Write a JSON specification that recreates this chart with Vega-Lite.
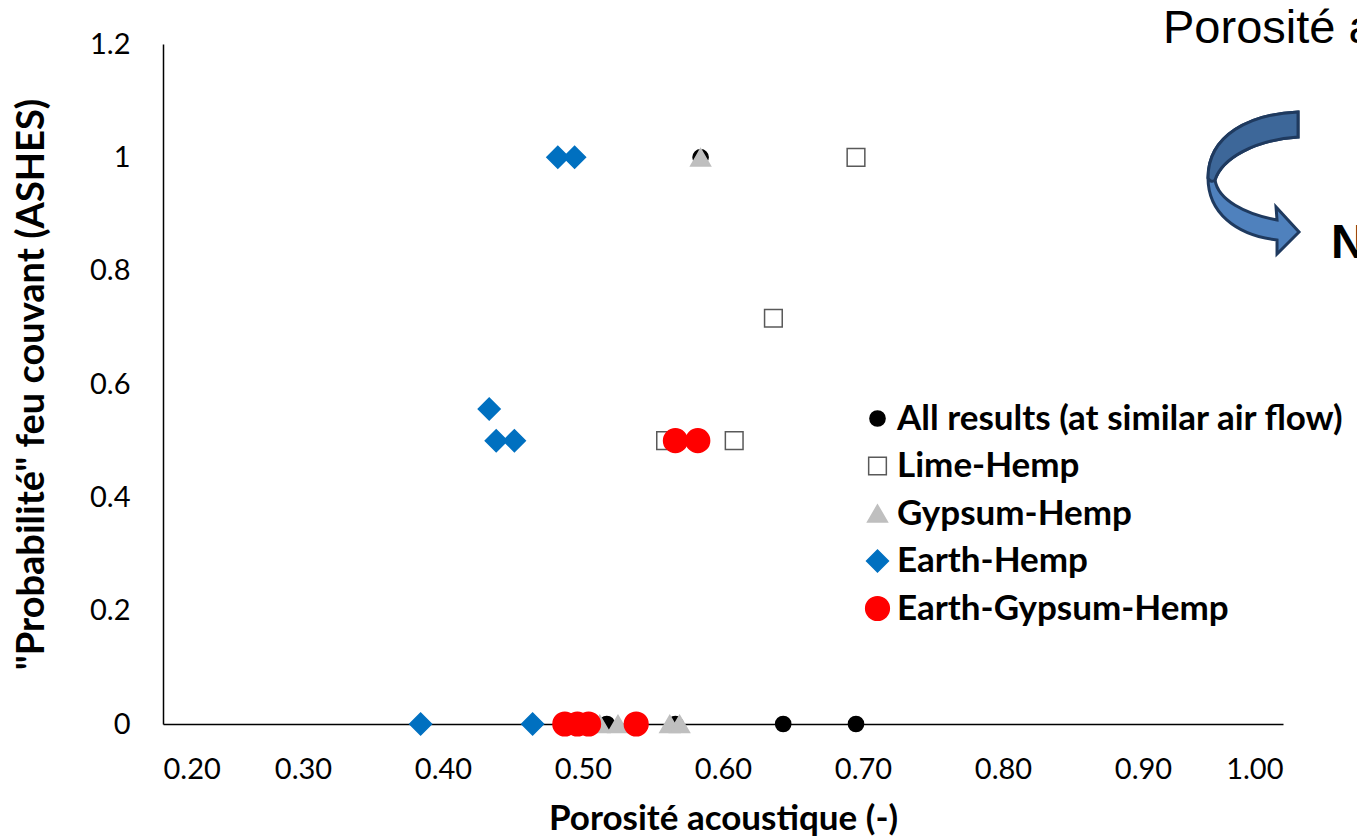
{
  "$schema": "https://vega.github.io/schema/vega-lite/v6.json",
  "width": 1120,
  "height": 680,
  "autosize": {"type": "none"},
  "padding": {"left": 163, "top": 44, "right": 74, "bottom": 115},
  "background": "white",
  "config": {
    "view": {"stroke": null},
    "font": "Lato"
  },
  "datasets": {
    "pts": [
      {"porosite": 0.584, "prob": 1, "serie": "All results (at similar air flow)"},
      {"porosite": 0.517, "prob": 0, "serie": "All results (at similar air flow)"},
      {"porosite": 0.566, "prob": 0, "serie": "All results (at similar air flow)"},
      {"porosite": 0.643, "prob": 0, "serie": "All results (at similar air flow)"},
      {"porosite": 0.695, "prob": 0, "serie": "All results (at similar air flow)"},
      {"porosite": 0.695, "prob": 1, "serie": "Lime-Hemp"},
      {"porosite": 0.636, "prob": 0.716, "serie": "Lime-Hemp"},
      {"porosite": 0.559, "prob": 0.5, "serie": "Lime-Hemp"},
      {"porosite": 0.608, "prob": 0.5, "serie": "Lime-Hemp"},
      {"porosite": 0.584, "prob": 1, "serie": "Gypsum-Hemp"},
      {"porosite": 0.512, "prob": 0, "serie": "Gypsum-Hemp"},
      {"porosite": 0.525, "prob": 0, "serie": "Gypsum-Hemp"},
      {"porosite": 0.562, "prob": 0, "serie": "Gypsum-Hemp"},
      {"porosite": 0.569, "prob": 0, "serie": "Gypsum-Hemp"},
      {"porosite": 0.482, "prob": 1, "serie": "Earth-Hemp"},
      {"porosite": 0.494, "prob": 1, "serie": "Earth-Hemp"},
      {"porosite": 0.433, "prob": 0.556, "serie": "Earth-Hemp"},
      {"porosite": 0.438, "prob": 0.5, "serie": "Earth-Hemp"},
      {"porosite": 0.451, "prob": 0.5, "serie": "Earth-Hemp"},
      {"porosite": 0.384, "prob": 0, "serie": "Earth-Hemp"},
      {"porosite": 0.464, "prob": 0, "serie": "Earth-Hemp"},
      {"porosite": 0.566, "prob": 0.5, "serie": "Earth-Gypsum-Hemp"},
      {"porosite": 0.582, "prob": 0.5, "serie": "Earth-Gypsum-Hemp"},
      {"porosite": 0.487, "prob": 0, "serie": "Earth-Gypsum-Hemp"},
      {"porosite": 0.496, "prob": 0, "serie": "Earth-Gypsum-Hemp"},
      {"porosite": 0.504, "prob": 0, "serie": "Earth-Gypsum-Hemp"},
      {"porosite": 0.538, "prob": 0, "serie": "Earth-Gypsum-Hemp"}
    ]
  },
  "layer": [
    {
      "data": {"name": "pts"},
      "mark": {"type": "point", "filled": true, "opacity": 1, "strokeWidth": 1.5},
      "encoding": {
        "x": {
          "field": "porosite", "type": "quantitative",
          "scale": {"domain": [0.2, 1.0], "nice": false, "zero": false},
          "axis": {
            "title": "Porosité acoustique (-)",
            "values": [0.2, 0.3, 0.4, 0.5, 0.6, 0.7, 0.8, 0.9, 1.0],
            "format": ".2f",
            "grid": false, "ticks": false,
            "domainColor": "#000000", "domainWidth": 1.5,
            "labelFont": "Lato", "labelFontSize": 29, "labelColor": "#000000",
            "labelPadding": 31,
            "titleFont": "Lato", "titleFontSize": 35, "titleFontWeight": "bold", "titleColor": "#000000",
            "titlePadding": 17
          }
        },
        "y": {
          "field": "prob", "type": "quantitative",
          "scale": {"domain": [0, 1.2], "nice": false},
          "axis": {
            "title": "\"Probabilité\" feu couvant (ASHES)",
            "values": [0, 0.2, 0.4, 0.6, 0.8, 1, 1.2],
            "labelExpr": "datum.value == 0 ? '0' : datum.value == 1 ? '1' : format(datum.value, '.1f')",
            "grid": false, "ticks": false,
            "domainColor": "#000000", "domainWidth": 1.5,
            "labelFont": "Lato", "labelFontSize": 29, "labelColor": "#000000",
            "labelPadding": 33,
            "titleFont": "Lato", "titleFontSize": 38, "titleFontWeight": "bold", "titleColor": "#000000",
            "titlePadding": 38
          }
        },
        "shape": {
          "field": "serie", "type": "nominal",
          "scale": {
            "domain": ["All results (at similar air flow)", "Lime-Hemp", "Gypsum-Hemp", "Earth-Hemp", "Earth-Gypsum-Hemp"],
            "range": ["circle", "square", "triangle-up", "diamond", "circle"]
          },
          "legend": {
            "title": null,
            "orient": "none",
            "legendX": 697,
            "legendY": 357,
            "labelFont": "Lato", "labelFontSize": 35, "labelFontWeight": "bold", "labelColor": "#000000",
            "labelLimit": 700,
            "rowPadding": 11.5,
            "labelOffset": 2,
            "symbolStrokeWidth": 1.5
          }
        },
        "fill": {
          "field": "serie", "type": "nominal",
          "scale": {
            "domain": ["All results (at similar air flow)", "Lime-Hemp", "Gypsum-Hemp", "Earth-Hemp", "Earth-Gypsum-Hemp"],
            "range": ["#000000", "#FFFFFF", "#BFBFBF", "#0070C0", "#FF0000"]
          }
        },
        "stroke": {
          "field": "serie", "type": "nominal",
          "scale": {
            "domain": ["All results (at similar air flow)", "Lime-Hemp", "Gypsum-Hemp", "Earth-Hemp", "Earth-Gypsum-Hemp"],
            "range": ["#000000", "#595959", "#BFBFBF", "#0070C0", "#FF0000"]
          }
        },
        "size": {
          "field": "serie", "type": "nominal",
          "scale": {
            "domain": ["All results (at similar air flow)", "Lime-Hemp", "Gypsum-Hemp", "Earth-Hemp", "Earth-Gypsum-Hemp"],
            "range": [230, 560, 820, 640, 520]
          }
        }
      }
    },
    {
      "data": {"values": [{"porosite": 0.9793, "prob": 0.9565}]},
      "mark": {
        "type": "point", "filled": true, "clip": false, "opacity": 1,
        "shape": "M0.44,-0.70C-0.04,-0.68,-0.46,-0.47,-0.46,-0.04C-0.46,0.30,-0.19,0.53,0.23,0.58L0.23,0.72L0.45,0.50L0.22,0.25L0.23,0.38C-0.09,0.32,-0.36,0.18,-0.39,-0.02C-0.32,-0.24,0.01,-0.42,0.44,-0.45Z",
        "size": 40000, "fill": "#4F81BD", "stroke": "#1F3A5F", "strokeWidth": 3
      },
      "encoding": {
        "x": {"field": "porosite", "type": "quantitative"},
        "y": {"field": "prob", "type": "quantitative"}
      }
    },
    {
      "data": {"values": [{"porosite": 0.9793, "prob": 0.9565}]},
      "mark": {
        "type": "point", "filled": true, "clip": false, "opacity": 1,
        "shape": "M0.44,-0.70C-0.04,-0.68,-0.46,-0.47,-0.46,-0.04C-0.44,0.0,-0.41,0.0,-0.39,-0.02C-0.32,-0.24,0.01,-0.42,0.44,-0.45Z",
        "size": 40000, "fill": "#3D6799", "stroke": "#1F3A5F", "strokeWidth": 3
      },
      "encoding": {
        "x": {"field": "porosite", "type": "quantitative"},
        "y": {"field": "prob", "type": "quantitative"}
      }
    },
    {
      "data": {"values": [{"porosite": 0.9143, "prob": 1.2018, "txt": "Porosité acoustique"}]},
      "mark": {"type": "text", "clip": false, "align": "left", "baseline": "alphabetic", "font": "Liberation Sans", "fontSize": 47, "color": "#000000"},
      "encoding": {
        "x": {"field": "porosite", "type": "quantitative"},
        "y": {"field": "prob", "type": "quantitative"},
        "text": {"field": "txt"}
      }
    },
    {
      "data": {"values": [{"porosite": 1.0343, "prob": 0.8224, "txt": "N"}]},
      "mark": {"type": "text", "clip": false, "align": "left", "baseline": "alphabetic", "font": "Liberation Sans", "fontWeight": "bold", "fontSize": 48, "color": "#000000"},
      "encoding": {
        "x": {"field": "porosite", "type": "quantitative"},
        "y": {"field": "prob", "type": "quantitative"},
        "text": {"field": "txt"}
      }
    }
  ]
}
